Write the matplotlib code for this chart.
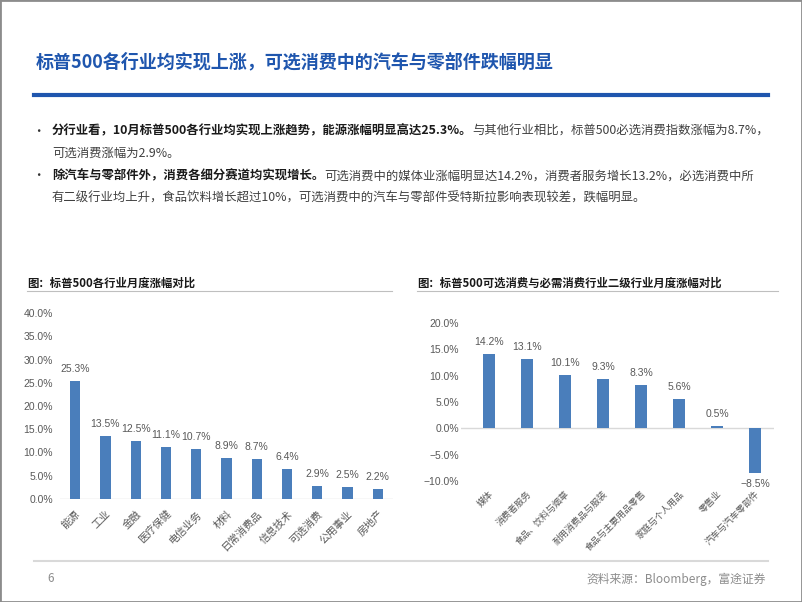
import matplotlib
matplotlib.use("Agg")
import matplotlib.pyplot as plt
from matplotlib.patches import Rectangle
from matplotlib.lines import Line2D

plt.rcParams['font.family'] = ['Noto Sans CJK SC', 'DejaVu Sans']
plt.rcParams['axes.unicode_minus'] = True

# ---- data ----
title = "标普500各行业均实现上涨，可选消费中的汽车与零部件跌幅明显"
bullet1_bold = "分行业看，10月标普500各行业均实现上涨趋势，能源涨幅明显高达25.3%。"
bullet1_rest = "与其他行业相比，标普500必选消费指数涨幅为8.7%，"
bullet1_line2 = "可选消费涨幅为2.9%。"
bullet2_bold = "除汽车与零部件外，消费各细分赛道均实现增长。"
bullet2_rest = "可选消费中的媒体业涨幅明显达14.2%，消费者服务增长13.2%，必选消费中所"
bullet2_line2 = "有二级行业均上升，食品饮料增长超过10%，可选消费中的汽车与零部件受特斯拉影响表现较差，跌幅明显。"

left_title = "图：标普500各行业月度涨幅对比"
left_cats = ["能源", "工业", "金融", "医疗保健", "电信业务", "材料", "日常消费品",
             "信息技术", "可选消费", "公用事业", "房地产"]
left_vals = [25.3, 13.5, 12.5, 11.1, 10.7, 8.9, 8.7, 6.4, 2.9, 2.5, 2.2]
left_ticks = [0, 5, 10, 15, 20, 25, 30, 35, 40]

right_title = "图：标普500可选消费与必需消费行业二级行业月度涨幅对比"
right_cats = ["媒体", "消费者服务", "食品、饮料与烟草", "耐用消费品与服装",
              "食品与主要用品零售", "家庭与个人用品", "零售业", "汽车与汽车零部件"]
right_vals = [14.2, 13.1, 10.1, 9.3, 8.3, 5.6, 0.5, -8.5]
right_ticks = [-10, -5, 0, 5, 10, 15, 20]

page_no = "6"
source = "资料来源：Bloomberg，富途证券"

BLUE = "#1F56AE"
BAR = "#4A7EBB"
GREY = "#595959"
W, H = 802, 602

fig = plt.figure(figsize=(8.02, 6.02), dpi=100)


def fx(px):
    return px / W


def fy(py):
    return 1 - py / H


def pct(v):
    s = "{:.1f}%".format(abs(v))
    return ("\u2212" + s) if v < 0 else s


# page border
fig.patches.append(Rectangle((0, 0), 1, 1, transform=fig.transFigure, fill=False,
                             edgecolor="#8c8c8c", linewidth=2))

# header
fig.text(fx(36), fy(62), title, color=BLUE, fontsize=13, fontweight="bold",
         va="center", ha="left")
fig.lines.append(Line2D([fx(34), fx(768)], [fy(95), fy(95)], transform=fig.transFigure,
                        color=BLUE, linewidth=3))

# bullets
fig.canvas.draw()
renderer = fig.canvas.get_renderer()


def two_part(x, y, bold, rest):
    t = fig.text(fx(x), fy(y), bold, fontsize=8.9, fontweight="bold", color="#1a1a1a",
                 va="center", ha="left")
    bb = t.get_window_extent(renderer=renderer)
    fig.text(bb.x1 / fig.dpi / fig.get_figwidth(), fy(y), rest, fontsize=8.9,
             color="#404040", va="center", ha="left")


fig.text(fx(38), fy(131), "•", fontsize=9, color="#333333", va="center", ha="center")
two_part(52, 131, bullet1_bold, bullet1_rest)
fig.text(fx(52), fy(153), bullet1_line2, fontsize=8.9, color="#404040", va="center")
fig.text(fx(38), fy(176), "•", fontsize=9, color="#333333", va="center", ha="center")
two_part(52, 176, bullet2_bold, bullet2_rest)
fig.text(fx(52), fy(198), bullet2_line2, fontsize=8.9, color="#404040", va="center")

# chart titles
fig.text(fx(27), fy(283), left_title, fontsize=8.2, fontweight="bold", color="#1a1a1a",
         va="center")
fig.lines.append(Line2D([fx(27), fx(392)], [fy(291), fy(291)], transform=fig.transFigure,
                        color="#bfbfbf", linewidth=0.8))
fig.text(fx(417), fy(283), right_title, fontsize=8.2, fontweight="bold", color="#1a1a1a",
         va="center")
fig.lines.append(Line2D([fx(417), fx(778)], [fy(291), fy(291)], transform=fig.transFigure,
                        color="#bfbfbf", linewidth=0.8))

num_font = ['Liberation Sans', 'Noto Sans CJK SC']


def style_axes(ax, ticks):
    for s in ax.spines.values():
        s.set_visible(False)
    ax.set_yticks(ticks)
    ax.set_yticklabels([pct(t) for t in ticks], fontsize=7.5, color=GREY, family=num_font)
    ax.tick_params(axis="both", length=0)
    ax.axhline(0, color="#d9d9d9", linewidth=1, zorder=1)


# left chart
ax1 = fig.add_axes([fx(60), fy(499), fx(333), 186 / H])
x1 = range(len(left_vals))
ax1.bar(x1, left_vals, width=0.34, color=BAR, zorder=2)
ax1.set_ylim(0, 40)
ax1.set_xlim(-0.5, len(left_vals) - 0.5)
style_axes(ax1, left_ticks)
ax1.tick_params(axis="y", pad=5)
ax1.set_xticks(list(x1))
ax1.set_xticklabels(left_cats, rotation=45, ha="right", rotation_mode="anchor",
                    fontsize=7.5, color=GREY)
ax1.tick_params(axis="x", pad=7)
for i, v in enumerate(left_vals):
    ax1.annotate(pct(v), (i, v), xytext=(0, 5), textcoords="offset points",
                 ha="center", va="bottom", fontsize=7.5, color=GREY, family=num_font)

# right chart
ax2 = fig.add_axes([fx(460.5), fy(481), fx(313.5), 158 / H])
x2 = range(len(right_vals))
ax2.bar(x2, right_vals, width=0.32, color=BAR, zorder=2)
ax2.set_ylim(-10, 20)
ax2.set_xlim(-0.75, len(right_vals) - 0.5)
style_axes(ax2, right_ticks)
ax2.tick_params(axis="y", pad=1)
ax2.set_xticks(list(x2))
ax2.set_xticklabels(right_cats, rotation=45, ha="right", rotation_mode="anchor",
                    fontsize=6.5, color=GREY)
ax2.tick_params(axis="x", pad=6)
for i, v in enumerate(right_vals):
    if v >= 0:
        ax2.annotate(pct(v), (i, v), xytext=(0, 5), textcoords="offset points",
                     ha="center", va="bottom", fontsize=7.5, color=GREY, family=num_font)
    else:
        ax2.annotate(pct(v), (i, v), xytext=(0, -4), textcoords="offset points",
                     ha="center", va="top", fontsize=7.5, color=GREY, family=num_font)

# footer
fig.lines.append(Line2D([fx(34), fx(768)], [fy(561), fy(561)], transform=fig.transFigure,
                        color="#d9d9d9", linewidth=1.5))
fig.text(fx(47), fy(579), page_no, fontsize=8.5, color="#8c8c8c", va="center")
fig.text(fx(766), fy(579), source, fontsize=8.5, color="#8c8c8c", va="center", ha="right")

fig.savefig("out.png", dpi=100)
